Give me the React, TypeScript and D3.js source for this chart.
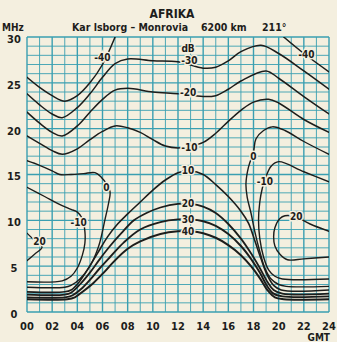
import React, { useEffect, useRef } from 'react';
import * as d3 from 'd3';

type Pt = [number, number];

// axis ticks
const hourTicks = ['00', '02', '04', '06', '08', '10', '12', '14', '16', '18', '20', '22', '24'];
const mhzTicks = [0, 5, 10, 15, 20, 25, 30];

// contour curves, [hour GMT, MHz]
const m40Left: Pt[] = [[0, 25.6], [1, 24.5], [2, 23.6], [3, 23.0], [4, 23.6], [5, 25.0], [6, 27.0], [7, 30]];
const m40Right: Pt[] = [[20.4, 30], [22, 28.2], [24, 26.2]];
const m30: Pt[] = [[0, 23.8], [1, 22.6], [2, 21.6], [2.8, 21.2], [4, 22.3], [5, 23.8], [6, 25.6], [7, 27.1], [8, 27.6], [10, 27.4], [12, 27.3], [14, 26.6], [15, 26.7], [16, 27.4], [17, 28.4], [18.6, 29.1], [20, 28.2], [22, 26.3], [24, 24.3]];
const m20: Pt[] = [[0, 21.8], [1, 20.6], [2, 19.6], [2.8, 19.2], [4, 20.3], [5, 21.8], [6, 23.2], [7, 24.2], [8, 24.4], [10, 24.0], [12, 23.8], [14, 23.5], [15, 23.6], [16, 24.3], [17, 25.2], [19, 26.3], [20, 25.5], [22, 23.5], [24, 21.6]];
const m10: Pt[] = [[0, 19.2], [1, 18.4], [2, 17.6], [2.8, 17.2], [4, 17.8], [5, 18.8], [6, 19.7], [7, 20.3], [8, 20.1], [9, 19.6], [10, 18.8], [11, 18.1], [12, 17.9], [13, 18.1], [14, 18.5], [15, 19.5], [16, 20.8], [17, 22.0], [18, 22.9], [19.2, 23.2], [20, 22.8], [22, 21.0], [24, 19.6]];
const zeroLeft: Pt[] = [[0, 16.5], [1, 16.0], [2, 15.4], [2.6, 15.0], [3.5, 15.0], [4.5, 15.1], [5.4, 15.2], [5.9, 14.7], [6.3, 14.0], [6.6, 13.1], [6.5, 12.0], [6.2, 10.1], [5.7, 7.2], [5.0, 5.0], [4.2, 3.6], [3.5, 2.9], [3, 2.7], [0, 2.7]];
const zeroRight: Pt[] = [[24, 17.2], [22, 18.6], [20.5, 19.8], [19.5, 20.2], [18.8, 19.8], [18.2, 18.9], [18, 17.5], [17.6, 15.8], [17.4, 14], [17.5, 12.5], [17.8, 10.8], [18.1, 8.8], [18.5, 6.6], [18.9, 4.8], [19.4, 3.6], [20, 3.0], [20.6, 2.8], [24, 2.8]];
const p10Left: Pt[] = [[0, 13.6], [1.4, 12.6], [2.5, 11.8], [3.5, 11.2], [4, 10.9], [4.4, 10.2], [4.6, 8.8], [4.6, 7.5], [4.4, 6.2], [4, 4.8], [3.5, 3.9], [2.8, 3.4], [0, 3.3]];
const p10Right: Pt[] = [[24, 14.2], [22, 15.3], [20, 16.4], [19.4, 15.9], [19.0, 14.8], [18.7, 13.5], [18.5, 12], [18.4, 10], [18.5, 8], [18.8, 6], [19.2, 4.6], [19.7, 3.9], [20.3, 3.6], [24, 3.6]];
const p20Left: Pt[] = [[0, 8.6], [0.6, 7.8], [1.2, 7.1], [0.6, 6.3], [0, 5.6]];
const p20Right: Pt[] = [[24, 8.8], [22.5, 9.6], [21.3, 10.4], [20.5, 10.5], [20.1, 10.2], [19.7, 9.2], [19.6, 8.2], [19.7, 7.2], [20.1, 6.3], [20.7, 5.7], [22, 5.8], [24, 6.0]];
const low10: Pt[] = [[0, 2.2], [3, 2.2], [3.5, 2.4], [4.1, 3.2], [4.8, 4.6], [5.6, 6.4], [6.4, 8.2], [7.2, 9.6], [8, 10.7], [9, 12], [10, 13.3], [11, 14.4], [12, 15.2], [13, 15.4], [14, 15], [15, 13.9], [16, 12.6], [17, 11], [17.6, 9.7], [18.1, 7.8], [18.6, 5.8], [19.1, 4], [19.6, 2.9], [20.2, 2.4], [24, 2.4]];
const low20: Pt[] = [[0, 1.9], [3, 1.9], [3.5, 2.1], [4.2, 3], [5, 4.3], [5.8, 5.8], [6.6, 7.2], [7.5, 8.6], [8.5, 10], [9.5, 10.8], [10.6, 11.4], [12, 11.8], [13, 11.8], [14, 11.5], [15, 10.8], [16, 9.6], [17, 8], [17.8, 6.4], [18.5, 4.8], [19.1, 3.3], [19.6, 2.4], [20.3, 2], [24, 2]];
const low30: Pt[] = [[0, 1.6], [3, 1.6], [3.6, 1.8], [4.3, 2.5], [5, 3.5], [5.8, 4.8], [6.6, 6], [7.7, 7.6], [9, 9], [10.6, 9.8], [12, 10.1], [13, 10.1], [14, 9.9], [15, 9.4], [16, 8.5], [17, 7.2], [17.8, 5.8], [18.5, 4.3], [19.1, 2.8], [19.6, 2], [20.3, 1.7], [24, 1.7]];
const low40: Pt[] = [[0, 1.4], [3.2, 1.4], [3.8, 1.6], [4.5, 2.3], [5.3, 3.2], [6.1, 4.3], [6.9, 5.5], [8, 6.9], [9, 7.7], [10.6, 8.5], [12, 8.8], [13, 8.8], [14, 8.6], [15, 8.1], [16, 7.3], [17, 6.2], [17.8, 5], [18.5, 3.7], [19.1, 2.4], [19.7, 1.6], [20.4, 1.4], [24, 1.4]];

const curves: { pts: Pt[]; w: number }[] = [
  { pts: m40Left, w: 1.5 }, { pts: m40Right, w: 1.5 }, { pts: m30, w: 1.5 }, { pts: m20, w: 1.5 },
  { pts: m10, w: 1.5 }, { pts: zeroLeft, w: 1.4 }, { pts: zeroRight, w: 1.4 }, { pts: p10Left, w: 1.4 },
  { pts: p10Right, w: 1.4 }, { pts: p20Left, w: 1.3 }, { pts: p20Right, w: 1.4 },
  { pts: low10, w: 1.6 }, { pts: low20, w: 1.8 }, { pts: low30, w: 1.9 }, { pts: low40, w: 2 },
];

// curve labels [text, hour, MHz]
const curveLabels: [string, number, number][] = [
  ['-40', 6.0, 27.8], ['-40', 22.2, 28.1], ['dB', 12.8, 28.8], ['-30', 12.9, 27.4], ['-20', 12.8, 23.9],
  ['-10', 12.9, 18.0], ['0', 6.3, 13.6], ['0', 18.0, 17.0], ['-10', 4.1, 9.8], ['-10', 18.9, 14.2],
  ['20', 1.0, 7.7], ['20', 21.4, 10.4], ['10', 12.8, 15.4], ['20', 12.8, 11.8], ['30', 12.8, 10.1], ['40', 12.8, 8.8],
];

const BG = '#f4efdf';
const GRID = '#3a9fb1';
const INK = '#1d1d1b';
const FONT = '"DejaVu Sans Condensed", "DejaVu Sans", sans-serif';

export default function App() {
  const ref = useRef<SVGSVGElement | null>(null);

  useEffect(() => {
    draw();
  }, []);

  function draw() {
    const svg = d3.select(ref.current);
    svg.selectAll('*').remove();
    const x = d3.scaleLinear().domain([0, 24]).range([27, 329]);
    const y = d3.scaleLinear().domain([0, 30]).range([312, 37]);

    svg.append('rect').attr('width', 337).attr('height', 342).attr('fill', BG);

    const grid = svg.append('g');
    d3.range(0, 25).forEach((h) => {
      grid.append('line')
        .attr('x1', x(h)).attr('x2', x(h)).attr('y1', y(0)).attr('y2', y(30))
        .attr('stroke', GRID).attr('stroke-width', h % 2 === 0 ? 1.4 : 0.9);
    });
    d3.range(0, 31).forEach((f) => {
      grid.append('line')
        .attr('x1', x(0)).attr('x2', x(24)).attr('y1', y(f)).attr('y2', y(f))
        .attr('stroke', GRID).attr('stroke-width', f % 5 === 0 ? 1.4 : 0.9);
    });

    const line = d3.line<Pt>()
      .x((d) => x(d[0]))
      .y((d) => y(d[1]))
      .curve(d3.curveCatmullRom.alpha(0.5));

    const plot = svg.append('g');
    plot.append('clipPath').attr('id', 'clip').append('rect')
      .attr('x', x(0)).attr('y', y(30)).attr('width', x(24) - x(0)).attr('height', y(0) - y(30));
    plot.selectAll('path.curve')
      .data(curves)
      .enter()
      .append('path')
      .attr('class', 'curve')
      .attr('clip-path', 'url(#clip)')
      .attr('d', (d) => line(d.pts))
      .attr('fill', 'none')
      .attr('stroke', INK)
      .attr('stroke-width', (d) => d.w)
      .attr('stroke-linecap', 'round');

    plot.selectAll('text.lab')
      .data(curveLabels)
      .enter()
      .append('text')
      .attr('class', 'lab')
      .text((d) => d[0])
      .attr('x', (d) => x(d[1]))
      .attr('y', (d) => y(d[2]))
      .attr('dy', '0.35em')
      .attr('text-anchor', 'middle')
      .attr('font-family', FONT)
      .attr('font-size', 10)
      .attr('font-weight', 'bold')
      .attr('fill', INK)
      .attr('stroke', BG)
      .attr('stroke-width', 3)
      .attr('paint-order', 'stroke');

    // axes text
    const txt = svg.append('g').attr('font-family', FONT).attr('font-weight', 'bold').attr('fill', INK);
    mhzTicks.forEach((f) => {
      txt.append('text').text(f).attr('x', 14).attr('y', y(f) + 2).attr('dy', '0.35em')
        .attr('text-anchor', 'middle').attr('font-size', 11);
    });
    hourTicks.forEach((t, i) => {
      txt.append('text').text(t).attr('x', x(i * 2)).attr('y', 326).attr('dy', '0.35em')
        .attr('text-anchor', 'middle').attr('font-size', 11);
    });
    txt.append('text').text('MHz').attr('x', 2).attr('y', 31).attr('font-size', 10);
    txt.append('text').text('GMT').attr('x', 330).attr('y', 341).attr('text-anchor', 'end').attr('font-size', 10);
    txt.append('text').text('AFRIKA').attr('x', 172).attr('y', 18).attr('text-anchor', 'middle').attr('font-size', 12);
    txt.append('text').text('Kar lsborg – Monrovia').attr('x', 72).attr('y', 31).attr('font-size', 10.5);
    txt.append('text').text('6200 km').attr('x', 201).attr('y', 31).attr('font-size', 10.5);
    txt.append('text').text('211°').attr('x', 262).attr('y', 31).attr('font-size', 10.5);
  }

  return (
    <svg ref={ref} width={337} height={342} style={{ position: 'absolute', left: 0, top: 0 }} />
  );
}
